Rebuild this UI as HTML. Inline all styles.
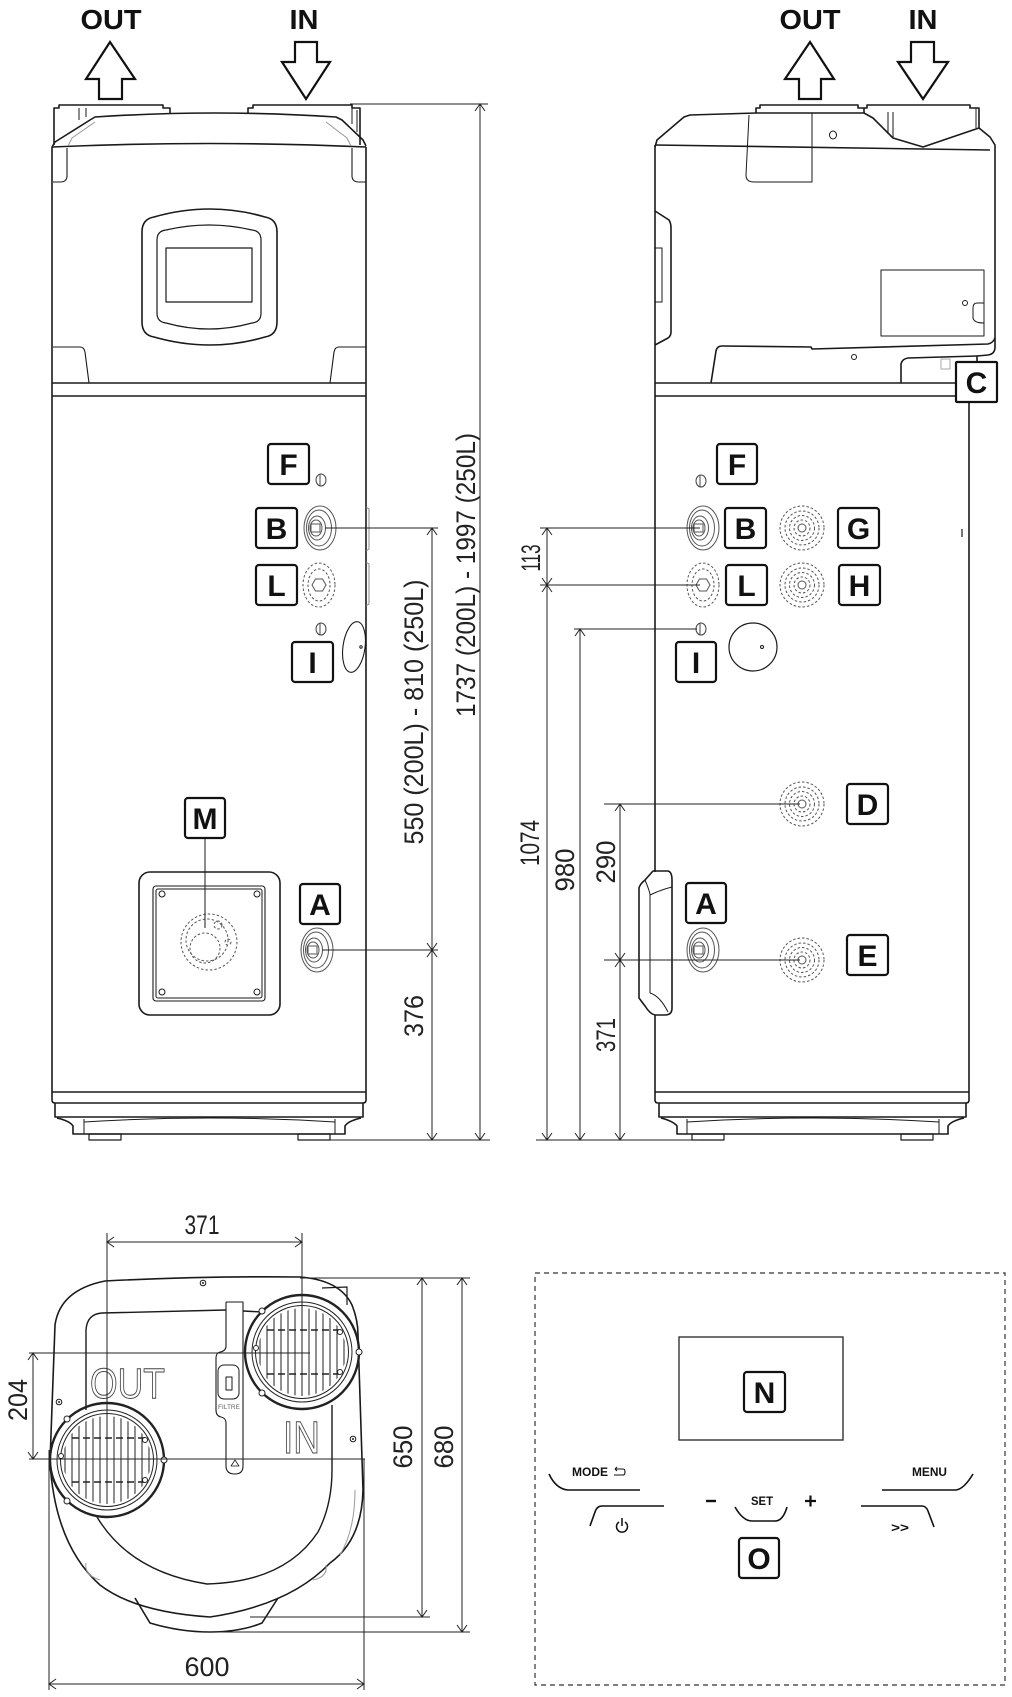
<!DOCTYPE html>
<html><head><meta charset="utf-8">
<style>
html,body{margin:0;padding:0;background:#fff;}
svg{display:block;}
text{font-family:"Liberation Sans",Arial,sans-serif;}
</style></head><body>
<svg width="1012" height="1697" viewBox="0 0 1012 1697" xmlns="http://www.w3.org/2000/svg">
<defs>
  <g id="fitB" fill="none" stroke="#555" stroke-width="1">
    <ellipse cx="0" cy="0" rx="16" ry="22"/>
    <ellipse cx="-1" cy="0" rx="12.5" ry="18"/>
    <ellipse cx="-3" cy="0" rx="8.5" ry="12"/>
    <ellipse cx="-4" cy="0" rx="6" ry="8"/>
    <rect x="-9" y="-4" width="9" height="8"/>
  </g>
  <g id="fitL" fill="none" stroke="#555" stroke-width="1" stroke-dasharray="2.5,2">
    <ellipse cx="0" cy="0" rx="16" ry="22"/>
    <ellipse cx="0" cy="0" rx="11" ry="16"/>
    <polygon points="-7,0 -3.5,-6 3.5,-6 7,0 3.5,6 -3.5,6" stroke-dasharray="none"/>
  </g>
  <g id="rings" fill="none" stroke="#555" stroke-width="1" stroke-dasharray="2.5,2">
    <circle r="22"/><circle r="17"/><circle r="12.5"/><circle r="8"/><circle r="4" stroke-dasharray="none"/>
  </g>
  <g id="smallc" fill="none" stroke="#444" stroke-width="1">
    <ellipse rx="5" ry="6"/><path d="M-1,-5.5 L-1,5.5"/>
  </g>
  <clipPath id="gclip"><circle r="44"/></clipPath>
  <g id="grille" fill="none" stroke="#222">
    <circle r="57" stroke-width="2.4"/>
    <circle r="50" stroke-width="1"/>
    <circle r="46.5" stroke-width="1"/>
    <g clip-path="url(#gclip)" stroke-width="1">
      <path d="M-42,-46V46M-35,-46V46M-28,-46V46M-21,-46V46M-14,-46V46M-7,-46V46M0,-46V46M7,-46V46M14,-46V46M21,-46V46M28,-46V46M35,-46V46M42,-46V46"/>
      <path d="M-46,-22H46M-46,22H46" stroke-width="1.6" stroke-dasharray="7,4"/>
    </g>
    <g fill="#fff" stroke-width="1">
      <circle cx="-40" cy="-41" r="3"/><circle cx="-40" cy="41" r="3"/>
      <circle cx="57" cy="0" r="3"/><circle cx="38" cy="-20" r="2.5"/><circle cx="38" cy="20" r="2.5"/>
      <circle cx="-46" cy="-4" r="2.5"/>
    </g>
  </g>
</defs>

<!-- ================= TOP LABELS ================= -->
<g font-weight="bold" font-size="28" fill="#111" text-anchor="middle">
  <text x="111" y="29" textLength="61" lengthAdjust="spacingAndGlyphs">OUT</text>
  <text x="304" y="29" textLength="29" lengthAdjust="spacingAndGlyphs">IN</text>
  <text x="810" y="29" textLength="61" lengthAdjust="spacingAndGlyphs">OUT</text>
  <text x="923" y="29" textLength="29" lengthAdjust="spacingAndGlyphs">IN</text>
</g>
<g fill="none" stroke="#111" stroke-width="2.2" stroke-linejoin="miter">
  <path d="M110,42 L135,79 L122,79 L122,99 L99,99 L99,79 L86,79 Z"/>
  <path d="M295,42 L317,42 L317,62 L330,62 L306,99 L282,62 L295,62 Z"/>
  <path d="M810,42 L834,79 L821,79 L821,99 L799,99 L799,79 L785,79 Z"/>
  <path d="M911,42 L934,42 L934,62 L948,62 L923,99 L898,62 L911,62 Z"/>
</g>

<!-- ================= LEFT (FRONT) VIEW ================= -->
<g fill="none" stroke="#1a1a1a" stroke-width="1.6" stroke-linejoin="round">
  <path d="M54,145 L54,108 L59,108 L59,105 L163,105 L163,108 L170,108 L170,114"/>
  <path d="M248,114 L248,108 L253,108 L253,105 L352,105 L352,108 L360,108 L360,145"/>
  <path d="M79,108 L79,120 M86,108 L86,117 M352,108 L352,124 M357,110 L357,132" stroke-width="1"/>
  <path d="M52,147 L55,142 L90,120 L95,117 Q215,109 336,117 L342,120 L363,140 L366,146"/>
  <path d="M52,147 Q210,140 366,147"/>
  <path d="M68,146 L72,138 L95,122 M351,146 L347,138 L326,122" stroke="#999" stroke-width="1"/>
  <path d="M67,148 L67,177 Q66,182 61,182 L53,182 M352,148 L352,177 Q353,182 358,182 L366,182" stroke-width="1.1"/>
  <path d="M53,347 L80,347 Q84,347 85,352 L89,383 M366,347 L339,347 Q335,347 334,352 L330,383" stroke-width="1.1"/>
  <path d="M52,383 L366,383 M52,396 L366,396"/>
  <path d="M52,147 L52,1100 Q52,1103 55,1103 L363,1103 Q366,1103 366,1100 L366,147"/>
  <path d="M52,1092 L366,1092"/>
  <path d="M55,1103 L55,1117 L363,1117 L363,1103"/>
  <path d="M57,1118 Q70,1121 73,1126 L73,1134 L345,1134 L345,1126 Q348,1121 361,1118"/>
  <path d="M84,1119 L84,1134 M335,1119 L335,1134 M84,1122 Q210,1114 335,1122" stroke-width="1"/>
  <rect x="89" y="1134" width="32" height="6" stroke-width="1.2"/>
  <rect x="298" y="1134" width="32" height="6" stroke-width="1.2"/>
  <!-- side tabs -->
  <path d="M366,507 L369,509 L369,549 L366,551 M366,562 L369,564 L369,604 L366,606" stroke="#888" stroke-width="1"/>
  <!-- control panel -->
  <path d="M142,232 Q142,219 154,217 Q210,201 265,217 Q277,219 277,232 L277,322 Q277,335 265,337 Q210,353 154,337 Q142,335 142,322 Z"/>
  <path d="M157,240 Q157,231 166,230 Q209,220 252,230 Q261,231 261,240 L261,313 Q261,322 252,323 Q209,335 166,323 Q157,322 157,313 Z" stroke-width="1.2"/>
  <rect x="166" y="248" width="86" height="54" stroke-width="1.2"/>
  <!-- heater panel -->
  <rect x="139" y="872" width="141" height="143" rx="11"/>
  <rect x="153" y="886" width="112" height="115" rx="3" stroke-width="1.1"/>
  <rect x="156" y="889" width="106" height="109" rx="2" stroke-width="1"/>
  <g stroke-width="1"><circle cx="162" cy="894" r="3"/><circle cx="257" cy="894" r="3"/><circle cx="162" cy="992" r="3"/><circle cx="257" cy="992" r="3"/></g>
  <g stroke="#555" stroke-width="1" stroke-dasharray="2.5,2">
    <circle cx="209" cy="942" r="28"/><circle cx="207" cy="940" r="21"/><circle cx="205" cy="948" r="15"/>
    <circle cx="218" cy="925" r="4"/><circle cx="228" cy="942" r="3"/>
  </g>
  <path d="M205,838 L205,928" stroke-width="1"/>
  <!-- oval next to I -->
  <ellipse cx="354" cy="647" rx="11" ry="25.5" transform="rotate(8 354 647)" stroke-width="1.1"/>
  <circle cx="361" cy="647" r="1.2" stroke-width="1"/>
</g>
<use href="#fitB" x="320" y="528"/>
<use href="#fitL" x="319" y="585"/>
<use href="#fitB" x="317" y="950"/>
<use href="#smallc" x="321" y="480"/>
<use href="#smallc" x="321" y="629"/>

<!-- ================= RIGHT (SIDE) VIEW ================= -->
<g fill="none" stroke="#1a1a1a" stroke-width="1.6" stroke-linejoin="round">
  <path d="M756,113 L756,108 L760,108 L760,105 L858,105 L858,108 L864,108 L864,113 Z"/>
  <path d="M864,108 L867,108 L867,105 L970,105 L970,108 L979,108 L979,128"/>
  <path d="M976,108 L976,128 M888,112 L888,134 M893,112 L893,138" stroke-width="1"/>
  <path d="M864,113 L873,118 L888,133 L893,138 L923,147 L973,130 L979,128"/>
  <path d="M655,147 L657,140 L684,117 L690,115 L756,113"/>
  <path d="M979,128 L990,137 L995,145 L995,347 Q995,354 988,355 L977,356 L977,362"/>
  <path d="M655,145 Q820,147 990,150"/>
  <path d="M749,115 L746,175 Q746,182 754,182 L812,182 L812,113" stroke-width="1"/>
  <ellipse cx="833" cy="135" rx="3.5" ry="4" stroke-width="1"/>
  <!-- side handle top -->
  <path d="M655,211 L669,220 Q671,223 671,228 L671,332 Q671,336 668,338 L655,345"/>
  <path d="M655,248 L662,248 L662,302 L655,302" stroke-width="1"/>
  <!-- electric box -->
  <rect x="881" y="270" width="103" height="66" stroke-width="1"/>
  <circle cx="965" cy="303" r="2.5" stroke-width="1"/>
  <path d="M984,303 L977,303 Q973,303 973,308 L973,318 Q974,323 984,323" stroke-width="1"/>
  <!-- lower cap -->
  <path d="M711,383 L716,351 Q717,346 722,346 L811,347 L812,349 L988,344 Q993,343 995,338"/>
  <circle cx="854" cy="357" r="2.5" stroke-width="1"/>
  <path d="M901,383 L901,364 Q902,359 908,358 L977,356"/>
  <rect x="941" y="359" width="9" height="10" stroke="#aaa" stroke-width="1"/>
  <path d="M655,383 L956,383 M655,396 L956,396"/>
  <!-- body -->
  <path d="M655,145 L655,872 M655,1015 L655,1100 Q655,1103 658,1103 L966,1103 Q969,1103 969,1100 L969,402"/>
  <path d="M655,1092 L969,1092"/>
  <path d="M659,1103 L659,1117 L966,1117 L966,1103"/>
  <path d="M661,1118 Q673,1121 677,1126 L677,1134 L948,1134 L948,1126 Q951,1121 964,1118"/>
  <path d="M687,1119 L687,1134 M939,1119 L939,1134 M687,1122 Q813,1114 939,1122" stroke-width="1"/>
  <rect x="692" y="1134" width="32" height="6" stroke-width="1.2"/>
  <rect x="901" y="1134" width="32" height="6" stroke-width="1.2"/>
  <!-- handle -->
  <path d="M653,871 L668,871 Q672,872 672,880 L672,1008 Q672,1015 665,1015 L655,1015 Q650,1014 645,1006 L639,998 L639,888 Q640,884 645,880 Z"/>
  <path d="M650,895 L650,993 M645,880 Q650,892 650,895 Q660,890 672,887 M650,993 Q660,996 668,1012" stroke-width="1"/>
  <!-- big circle -->
  <circle cx="753" cy="647" r="24" stroke-width="1.2"/>
  <circle cx="762" cy="647" r="1.5" stroke-width="1"/>
  <path d="M962,529 L962,537" stroke-width="1.2"/>
</g>
<use href="#fitB" x="703" y="528"/>
<use href="#fitL" x="703" y="585"/>
<use href="#fitB" x="703" y="950"/>
<use href="#rings" x="802" y="528"/>
<use href="#rings" x="802" y="585"/>
<use href="#rings" x="802" y="804"/>
<use href="#rings" x="802" y="960"/>
<use href="#smallc" x="701" y="481"/>
<use href="#smallc" x="701" y="629"/>

<!-- ================= DIMENSIONS (upper) ================= -->
<g fill="none" stroke="#222" stroke-width="1">
  <!-- left -->
  <path d="M350,104 L488,104"/>
  <path d="M480,104 L480,1140 M475,111 L480,104 L485,111 M475,1133 L480,1140 L485,1133"/>
  <path d="M325,528 L438,528 M322,950 L438,950"/>
  <path d="M432,528 L432,1140 M427,535 L432,528 L437,535 M427,943 L432,950 L437,943 M427,957 L432,950 L437,957 M427,1133 L432,1140 L437,1133"/>
  <path d="M330,1140 L490,1140"/>
  <!-- right -->
  <path d="M540,528 L700,528 M540,585 L700,585"/>
  <path d="M547,528 L547,1140 M542,535 L547,528 L552,535 M542,578 L547,585 L552,578 M542,592 L547,585 L552,592 M542,1133 L547,1140 L552,1133"/>
  <path d="M574,629 L697,629"/>
  <path d="M580,629 L580,1140 M575,636 L580,629 L585,636 M575,1133 L580,1140 L585,1133"/>
  <path d="M604,804 L800,804 M604,960 L800,960"/>
  <path d="M620,804 L620,1140 M615,811 L620,804 L625,811 M615,953 L620,960 L625,953 M615,967 L620,960 L625,967 M615,1133 L620,1140 L625,1133"/>
  <path d="M536,1140 L700,1140"/>
</g>
<g font-size="27" fill="#222" text-anchor="middle" dominant-baseline="central" lengthAdjust="spacingAndGlyphs">
  <text transform="translate(466,575) rotate(-90)" textLength="284" lengthAdjust="spacingAndGlyphs">1737 (200L) - 1997 (250L)</text>
  <text transform="translate(414,712) rotate(-90)" textLength="265" lengthAdjust="spacingAndGlyphs">550 (200L) - 810 (250L)</text>
  <text transform="translate(414,1016) rotate(-90)" textLength="42" lengthAdjust="spacingAndGlyphs">376</text>
  <text transform="translate(531,558) rotate(-90)" textLength="27" lengthAdjust="spacingAndGlyphs">113</text>
  <text transform="translate(530,843) rotate(-90)" textLength="46" lengthAdjust="spacingAndGlyphs">1074</text>
  <text transform="translate(565,870) rotate(-90)" textLength="43" lengthAdjust="spacingAndGlyphs">980</text>
  <text transform="translate(606,862) rotate(-90)" textLength="43" lengthAdjust="spacingAndGlyphs">290</text>
  <text transform="translate(606,1035) rotate(-90)" textLength="34" lengthAdjust="spacingAndGlyphs">371</text>
</g>

<!-- ================= BOTTOM (TOP VIEW) ================= -->
<g fill="none" stroke="#1a1a1a" stroke-width="1.6" stroke-linejoin="round">
  <!-- outer body -->
  <path d="M50,1462 L55,1325 Q60,1290 105,1281 Q200,1276 300,1277 Q340,1280 352,1305 Q358,1320 358,1335 L363,1490 Q362,1540 330,1563 Q290,1605 210,1617 Q135,1612 100,1585 Q55,1545 50,1462 Z"/>
  <!-- bump -->
  <path d="M135,1598 L150,1623 Q180,1632 210,1632 Q240,1632 262,1623 L278,1598"/>
  <!-- small tab top right -->
  <path d="M322,1288 L347,1287 L347,1305" stroke-width="1.2"/>
  <!-- inner U -->
  <path d="M86,1410 L86,1330 Q87,1314 102,1313 L226,1310 M243,1311 L262,1312" stroke-width="1.4"/>
  <path d="M97,1517 Q130,1572 207,1584 Q285,1582 318,1532 Q332,1505 332,1470 L332,1405" stroke-width="1.4"/>
  <!-- side bits -->
  <path d="M86,1563 Q84,1575 100,1580 M326,1565 Q328,1577 313,1580 M355,1490 Q355,1530 340,1555" stroke="#999" stroke-width="1"/>
  <!-- filter strip -->
  <path d="M226,1302 L243,1302 L243,1462 M226,1302 L226,1346 Q226,1351 220,1352 Q216,1353 216,1358 L216,1410 Q216,1416 221,1417 Q226,1418 226,1423 L226,1462" stroke-width="1.1"/>
  <path d="M226,1462 L226,1466 Q226,1474 235,1474 Q243,1474 243,1466 L243,1462" stroke-width="1.1"/>
  <path d="M231,1466 L235,1460 L239,1466 Z" stroke-width="0.8"/>
  <rect x="218" y="1365" width="21" height="34" rx="6" stroke-width="1"/>
  <rect x="226" y="1377" width="6" height="13" stroke-width="1"/>
  <!-- screws -->
  <g stroke-width="1"><circle cx="203" cy="1283" r="2.8"/><circle cx="59" cy="1402" r="2.8"/><circle cx="353" cy="1439" r="2.8"/></g>
  <g fill="#222" stroke="none"><circle cx="203" cy="1283" r="1"/><circle cx="59" cy="1402" r="1"/><circle cx="353" cy="1439" r="1"/></g>
</g>
<g font-size="43" fill="none" stroke="#444" stroke-width="1">
  <text x="90" y="1398" textLength="75" lengthAdjust="spacingAndGlyphs">OUT</text>
  <text x="283" y="1453" font-size="45" textLength="37" lengthAdjust="spacingAndGlyphs">IN</text>
</g>
<text x="229" y="1409" font-size="6.5" fill="#666" text-anchor="middle">FILTRE</text>
<use href="#grille" x="302" y="1352"/>
<use href="#grille" x="107" y="1460"/>

<g fill="none" stroke="#222" stroke-width="1">
  <path d="M107,1233 L107,1470 M302,1233 L302,1362"/>
  <path d="M107,1242 L302,1242 M114,1237 L107,1242 L114,1247 M295,1237 L302,1242 L295,1247"/>
  <path d="M29,1353 L310,1353 M29,1459 L365,1459"/>
  <path d="M33,1353 L33,1459 M28,1360 L33,1353 L38,1360 M28,1452 L33,1459 L38,1452"/>
  <path d="M300,1278 L470,1278 M250,1617 L430,1617 M200,1632 L470,1632"/>
  <path d="M422,1278 L422,1617 M417,1285 L422,1278 L427,1285 M417,1610 L422,1617 L427,1610"/>
  <path d="M462,1278 L462,1632 M457,1285 L462,1278 L467,1285 M457,1625 L462,1632 L467,1625"/>
  <path d="M49,1450 L49,1690 M364,1459 L364,1690"/>
  <path d="M49,1684 L364,1684 M56,1679 L49,1684 L56,1689 M357,1679 L364,1684 L357,1689"/>
</g>
<g font-size="27" fill="#222" text-anchor="middle" dominant-baseline="central">
  <text x="202" y="1225" textLength="35" lengthAdjust="spacingAndGlyphs">371</text>
  <text transform="translate(18,1400) rotate(-90)" textLength="42" lengthAdjust="spacingAndGlyphs">204</text>
  <text transform="translate(403,1447) rotate(-90)" textLength="43" lengthAdjust="spacingAndGlyphs">650</text>
  <text transform="translate(444,1447) rotate(-90)" textLength="43" lengthAdjust="spacingAndGlyphs">680</text>
  <text x="207" y="1667" textLength="45" lengthAdjust="spacingAndGlyphs">600</text>
</g>

<!-- ================= CONTROL PANEL DETAIL ================= -->
<g fill="none" stroke="#333" stroke-width="1.3">
  <rect x="535" y="1273" width="470" height="412" stroke-dasharray="5,4" stroke-width="1.2"/>
  <rect x="679" y="1337" width="164" height="103" stroke-width="1.4"/>
  <path d="M549,1474 Q556,1489 568,1490 L640,1490" stroke="#111" stroke-width="1.6"/>
  <path d="M664,1506 L602,1506 Q597,1506 595,1512 L590,1526" stroke="#111" stroke-width="1.6"/>
  <path d="M735,1507 Q743,1521 752,1521 L775,1521 Q783,1521 787,1507" stroke="#111" stroke-width="1.6"/>
  <path d="M882,1490 L956,1490 Q964,1489 973,1474" stroke="#111" stroke-width="1.6"/>
  <path d="M861,1506 L922,1506 Q926,1506 928,1511 L934,1527" stroke="#111" stroke-width="1.6"/>
  <!-- return arrow -->
  <path d="M615,1469 L623,1469 Q625,1469 625,1472 Q625,1475 623,1475 L614,1475 M615,1469 L617,1467 M615,1469 L617,1471" stroke="#111" stroke-width="1.1"/>
  <!-- power -->
  <path d="M619,1522 A5.5,5.5 0 1 0 625,1522" stroke="#111" stroke-width="1.5"/>
  <path d="M622,1518 L622,1526" stroke="#111" stroke-width="1.5"/>
  <!-- minus/plus -->
  <path d="M706,1501 L716,1501" stroke="#111" stroke-width="2.4"/>
  <path d="M805,1501 L816,1501 M810.5,1495.5 L810.5,1506.5" stroke="#111" stroke-width="2.2"/>
</g>
<g font-weight="bold" fill="#111" font-size="12">
  <text x="572" y="1476" textLength="36" lengthAdjust="spacingAndGlyphs">MODE</text>
  <text x="912" y="1476" textLength="35" lengthAdjust="spacingAndGlyphs">MENU</text>
  <text x="751" y="1505" font-size="11.5" textLength="22" lengthAdjust="spacingAndGlyphs">SET</text>
  <text x="891" y="1532" font-size="13" textLength="18" lengthAdjust="spacingAndGlyphs">&gt;&gt;</text>
</g>

<!-- ================= LABEL BOXES ================= -->
<g fill="#fff" stroke="#111" stroke-width="2.2">
  <rect x="268" y="444" width="41" height="40" rx="3"/>
  <rect x="256" y="508" width="41" height="40" rx="3"/>
  <rect x="256" y="565" width="41" height="40" rx="3"/>
  <rect x="292" y="642" width="41" height="40" rx="3"/>
  <rect x="185" y="798" width="40" height="40" rx="3"/>
  <rect x="300" y="884" width="40" height="40" rx="3"/>
  <rect x="717" y="444" width="40" height="40" rx="3"/>
  <rect x="725" y="508" width="41" height="40" rx="3"/>
  <rect x="838" y="508" width="41" height="40" rx="3"/>
  <rect x="726" y="565" width="41" height="40" rx="3"/>
  <rect x="839" y="565" width="41" height="40" rx="3"/>
  <rect x="676" y="642" width="40" height="40" rx="3"/>
  <rect x="847" y="784" width="41" height="40" rx="3"/>
  <rect x="686" y="883" width="40" height="40" rx="3"/>
  <rect x="847" y="935" width="41" height="40" rx="3"/>
  <rect x="956" y="362" width="41" height="40" rx="1"/>
  <rect x="744" y="1372" width="41" height="40" rx="3"/>
  <rect x="739" y="1538" width="40" height="40" rx="3"/>
</g>
<g font-weight="bold" font-size="30" fill="#111" text-anchor="middle">
  <text x="288.5" y="475">F</text>
  <text x="276.5" y="539">B</text>
  <text x="276.5" y="596">L</text>
  <text x="312.5" y="673">I</text>
  <text x="205" y="829">M</text>
  <text x="320" y="915">A</text>
  <text x="737" y="475">F</text>
  <text x="745.5" y="539">B</text>
  <text x="858.5" y="539">G</text>
  <text x="746.5" y="596">L</text>
  <text x="859.5" y="596">H</text>
  <text x="696" y="673">I</text>
  <text x="867.5" y="815">D</text>
  <text x="706" y="914">A</text>
  <text x="867.5" y="966">E</text>
  <text x="976.5" y="393">C</text>
  <text x="764.5" y="1403">N</text>
  <text x="759" y="1569">O</text>
</g>
</svg>
</body></html>
